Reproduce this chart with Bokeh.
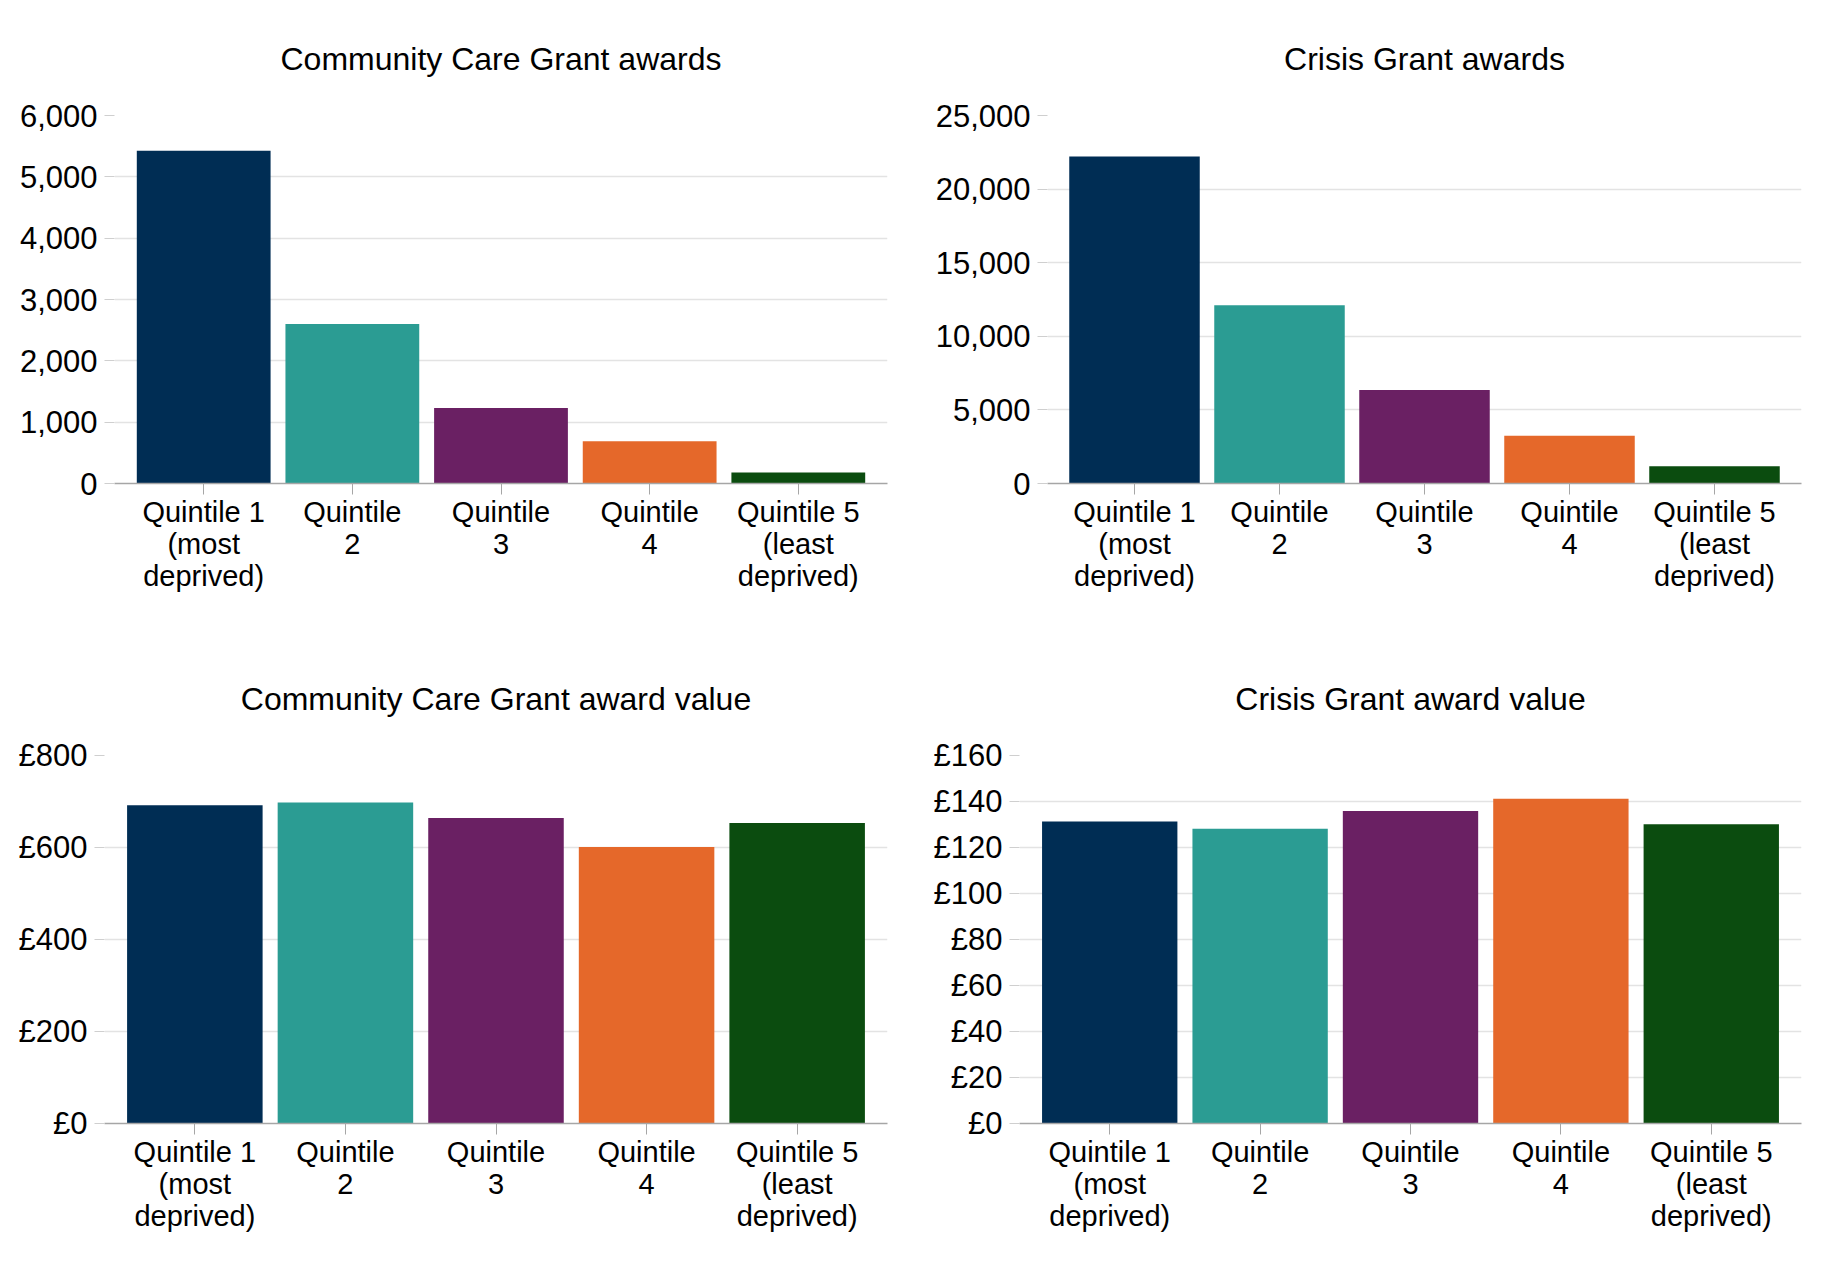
from bokeh.plotting import figure
from bokeh.models import FactorRange, Range1d, FixedTicker, NumeralTickFormatter, PrintfTickFormatter
from bokeh.layouts import column, row
from bokeh.embed import file_html
from bokeh.resources import INLINE

# Deprivation quintiles (SIMD) used on every panel
quintiles = [
    "Quintile 1\n(most\ndeprived)",
    "Quintile\n2",
    "Quintile\n3",
    "Quintile\n4",
    "Quintile 5\n(least\ndeprived)",
]
colours = ["#002d54", "#2b9c93", "#6a2063", "#e5682a", "#0b4c0f"]

# Number of awards
ccg_awards = [5425, 2600, 1230, 690, 180]
cg_awards = [22220, 12110, 6360, 3245, 1180]

# Average award value (£)
ccg_value = [692, 698, 664, 601, 653]
cg_value = [131.3, 128.2, 135.9, 141.2, 130.1]

# Axis settings
ccg_awards_ticks = [0, 1000, 2000, 3000, 4000, 5000, 6000]
cg_awards_ticks = [0, 5000, 10000, 15000, 20000, 25000]
ccg_value_ticks = [0, 200, 400, 600, 800]
cg_value_ticks = [0, 20, 40, 60, 80, 100, 120, 140, 160]

FONT = "Liberation Sans"
GRID = "#e3e3e3"
AXIS = "#a6a6a6"


def panel(title, values, ticks, fmt, width, left, right):
    p = figure(
        x_range=FactorRange(*quintiles, range_padding=0.04),
        y_range=Range1d(0, ticks[-1]),
        width=width, height=640,
        min_border_left=left, min_border_right=right,
        min_border_top=114, min_border_bottom=157,
        output_backend="svg", toolbar_location=None,
        title=title,
    )
    p.vbar(x=quintiles, top=values, width=0.9, fill_color=colours, line_color=None)

    p.title.text_font = FONT
    p.title.text_font_size = "32px"
    p.title.text_font_style = "normal"
    p.title.text_color = "#000000"
    p.title.align = "center"
    p.title.standoff = 77

    p.outline_line_color = None
    p.background_fill_color = "white"
    p.border_fill_color = "white"
    p.xgrid.grid_line_color = None
    p.ygrid.grid_line_color = GRID
    p.ygrid.grid_line_width = 1.5

    ya = p.yaxis[0]
    ya.ticker = FixedTicker(ticks=ticks)
    ya.formatter = fmt
    ya.axis_line_color = None
    ya.major_tick_in = 0
    ya.major_tick_out = 10
    ya.major_tick_line_color = "#cfcfcf"
    ya.minor_tick_line_color = None
    ya.major_label_standoff = 7
    ya.major_label_text_font = FONT
    ya.major_label_text_font_size = "31px"
    ya.major_label_text_color = "#000000"

    xa = p.xaxis[0]
    xa.axis_line_color = AXIS
    xa.axis_line_width = 1.5
    xa.major_tick_in = 0
    xa.major_tick_out = 11
    xa.major_tick_line_color = AXIS
    xa.minor_tick_line_color = None
    xa.major_label_standoff = 1
    xa.major_label_orientation = "horizontal"
    xa.major_label_text_font = FONT
    xa.major_label_text_font_size = "29px"
    xa.major_label_text_line_height = 1.0
    xa.major_label_text_color = "#000000"
    xa.major_label_text_align = "center"
    return p


p1 = panel("Community Care Grant awards", ccg_awards, ccg_awards_ticks,
           NumeralTickFormatter(format="0,0"), 914, 114, 27)
p2 = panel("Crisis Grant awards", cg_awards, cg_awards_ticks,
           NumeralTickFormatter(format="0,0"), 915, 133, 28)
p3 = panel("Community Care Grant award value", ccg_value, ccg_value_ticks,
           PrintfTickFormatter(format="£%d"), 914, 104, 27)
p4 = panel("Crisis Grant award value", cg_value, cg_value_ticks,
           PrintfTickFormatter(format="£%d"), 915, 105, 28)

layout = column(row(p1, p2, spacing=0), row(p3, p4, spacing=0), spacing=0)

open("out.html", "w").write(file_html(layout, INLINE))
